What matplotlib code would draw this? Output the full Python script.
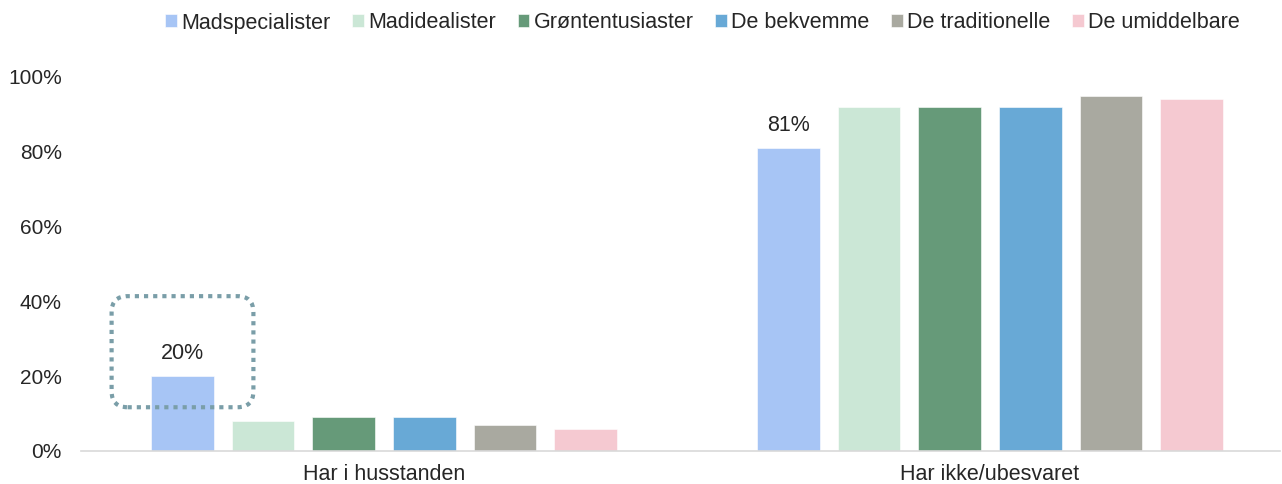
import matplotlib.pyplot as plt
import numpy as np
from matplotlib.patches import FancyBboxPatch

plt.rcParams['font.family'] = ['Liberation Sans', 'DejaVu Sans']

# Data
categories = ['Har i husstanden', 'Har ikke/ubesvaret']
segments = ['Madspecialister', 'Madidealister', 'Grøntentusiaster',
            'De bekvemme', 'De traditionelle', 'De umiddelbare']
values = {
    'Madspecialister':  [20, 81],
    'Madidealister':    [8, 92],
    'Grøntentusiaster': [9, 92],
    'De bekvemme':      [9, 92],
    'De traditionelle': [7, 95],
    'De umiddelbare':   [6, 94],
}
colors = ['#a7c5f5', '#cbe7d6', '#669a79', '#68a9d6', '#a9a9a0', '#f5c9d1']
yticks = [0, 20, 40, 60, 80, 100]

fig = plt.figure(figsize=(12.82, 4.84), dpi=100)
ax = fig.add_axes([81 / 1282, 1 - 451 / 484, 1199 / 1282, 374 / 484])

x = np.arange(len(categories))
step = 0.133
width = 0.103
offsets = (np.arange(len(segments)) - (len(segments) - 1) / 2) * step

for i, seg in enumerate(segments):
    ax.bar(x + offsets[i], values[seg], width, color=colors[i], label=seg,
           edgecolor='white', linewidth=0.4, zorder=2)

# labels on the first series only
for j, v in enumerate(values['Madspecialister']):
    ax.text(x[j] + offsets[0], v + 6, f'{v}%', ha='center', va='center',
            fontsize=15.5, color='#262626')

ax.set_xlim(-0.5, -0.5 + 1199 / 606)
ax.set_ylim(0, 100)
ax.set_yticks(yticks)
ax.set_yticklabels([f'{t}%' for t in yticks])
ax.set_xticks(x)
ax.set_xticklabels(categories)
ax.tick_params(axis='both', length=0, labelsize=15.5, colors='#262626')
ax.tick_params(axis='y', pad=13.7, labelsize=15)
ax.tick_params(axis='x', pad=9)
for s in ['top', 'right', 'left']:
    ax.spines[s].set_visible(False)
ax.spines['bottom'].set_color('#d9d9d9')
ax.spines['bottom'].set_linewidth(1.2)

# dotted highlight box around the first bar
fig.canvas.draw()
v0 = values['Madspecialister'][0]
(x0, y0) = ax.transData.transform((x[0] + offsets[0] - 0.117, v0 - 8.3))
(x1, y1) = ax.transData.transform((x[0] + offsets[0] + 0.117, v0 + 21.4))
box = FancyBboxPatch((x0 + 16, y0 + 16), (x1 - x0) - 32, (y1 - y0) - 32,
                     boxstyle='round,pad=16', transform=None,
                     fill=False, edgecolor='#7a9ea8', linewidth=3,
                     linestyle=(0, (1, 1.2)), zorder=5)
fig.patches.append(box)

fig.legend(loc='center', bbox_to_anchor=(0.548, 1 - 23 / 484), ncol=6,
           frameon=False, fontsize=15.5, handlelength=0.55, handleheight=0.55,
           handletextpad=0.2, columnspacing=1.0, labelcolor='#262626')

fig.savefig('out.png', dpi=100)
